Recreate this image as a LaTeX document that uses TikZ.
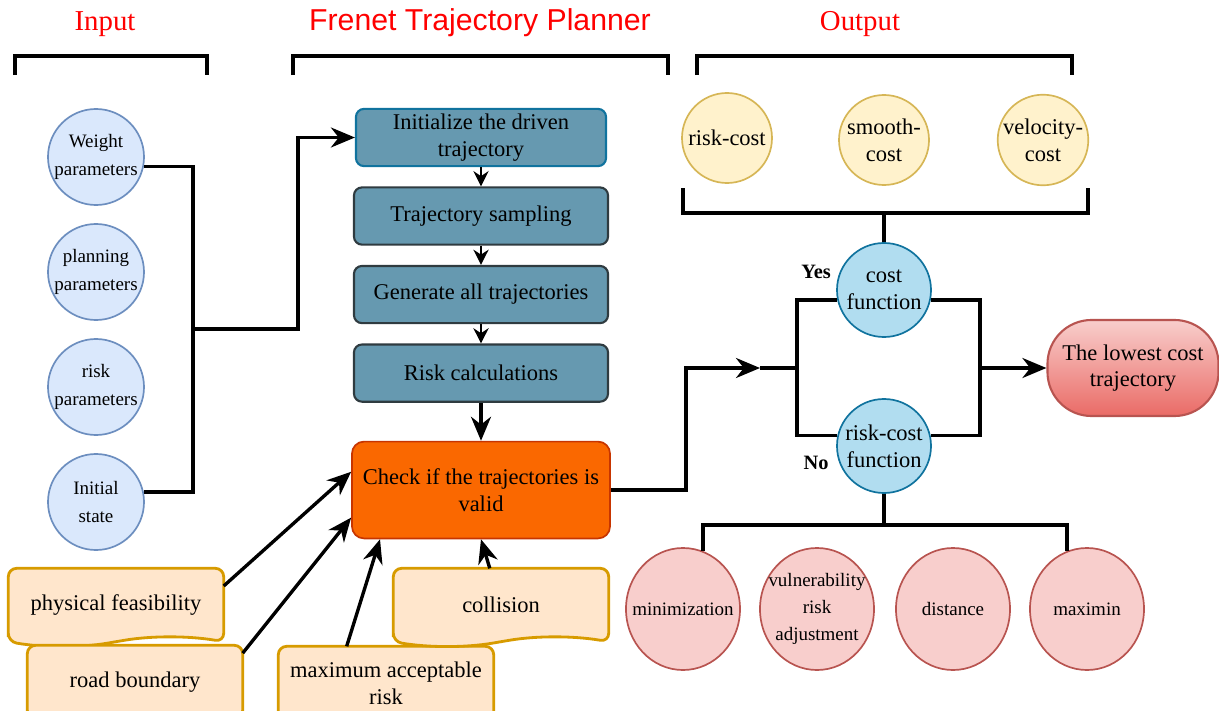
\documentclass[tikz,border=0pt]{standalone}
\usepackage{fontspec}
\setmainfont{Liberation Serif}
\newfontfamily\planfont{Liberation Sans}
\usepackage{tikz}
\usetikzlibrary{positioning,shapes.geometric,arrows.meta,backgrounds}
\definecolor{infill}{HTML}{DAE8FC}
\definecolor{inedge}{HTML}{6C8EBF}
\definecolor{outfill}{HTML}{FFF2CC}
\definecolor{outedge}{HTML}{D6B656}
\definecolor{costfill}{HTML}{B1DDF0}
\definecolor{costedge}{HTML}{10739E}
\definecolor{pinkfill}{HTML}{F8CECC}
\definecolor{pinkedge}{HTML}{B85450}
\definecolor{pinktop}{HTML}{F8CECC}
\definecolor{pinkbot}{HTML}{EA6B66}
\definecolor{docfill}{HTML}{FFE6CC}
\definecolor{docedge}{HTML}{D79B00}
\definecolor{flowfill}{HTML}{6699B0}
\definecolor{flowedge}{HTML}{2F3B40}
\definecolor{checkfill}{HTML}{FA6800}
\definecolor{checkedge}{HTML}{C73500}
\newcommand{\docoutline}[1]{%
  \path[docline] (#1.south west) -- (#1.north west) -- (#1.north east) -- (#1.south east)
    .. controls ([xshift=-0.88cm,yshift=0.15cm]#1.south east) and ([xshift=0.88cm,yshift=0.15cm]#1.south) .. (#1.south)
    .. controls ([xshift=-0.88cm,yshift=-0.15cm]#1.south) and ([xshift=0.88cm,yshift=-0.15cm]#1.south west) .. (#1.south west) -- cycle;}
\begin{document}
\begin{tikzpicture}[x=0.025cm, y=-0.025cm, node distance=0.48cm, line width=2.4pt, >={Stealth[length=6mm,width=5mm]},
innode/.style={circle, draw=inedge, fill=infill, line width=1.2pt, minimum size=2.4cm, inner sep=0pt, align=center, font=\fontsize{13.5}{20}\selectfont},
outnode/.style={circle, draw=outedge, fill=outfill, line width=1.2pt, minimum size=2.25cm, inner sep=0pt, align=center},
costnode/.style={circle, draw=costedge, fill=costfill, line width=1.2pt, minimum size=2.35cm, inner sep=0pt, align=center},
rulenode/.style={ellipse, draw=pinkedge, fill=pinkfill, line width=1.2pt, minimum width=2.85cm, minimum height=3.05cm, inner xsep=-0.3cm, inner ysep=0pt, align=center, font=\fontsize{13.5}{19}\selectfont},
flownode/.style={rectangle, rounded corners=0.2cm, draw=flowedge, fill=flowfill, line width=1.5pt, minimum width=6.35cm, minimum height=1.43cm, align=center},
checknode/.style={rectangle, rounded corners=0.3cm, draw=checkedge, fill=checkfill, line width=1.2pt, minimum width=6.45cm, minimum height=2.42cm, align=center},
docnode/.style={rectangle, minimum width=5.3cm, minimum height=1.75cm, inner sep=0pt, align=center},
docline/.style={draw=docedge, fill=docfill, line width=2pt, rounded corners=6pt},
resnode/.style={rectangle, rounded corners=1.1cm, draw=pinkedge, top color=pinktop, bottom color=pinkbot, line width=1.5pt, minimum width=4.275cm, minimum height=2.4cm, align=center},
headnode/.style={text=red, font=\fontsize{20.5}{24}\selectfont},
bracket/.style={line width=2.6pt},
smallarrow/.style={line width=1.6pt, -{Stealth[length=3.8mm,width=3.8mm]}},
labelnode/.style={font=\bfseries\fontsize{14.5}{17}\selectfont}]
\tikzstyle{every node}=[font=\fontsize{16}{19}\selectfont]
\useasboundingbox (0,0) rectangle (1219,711);
\node[headnode] (h1) at (105,24) {Input};
\node[headnode, font=\planfont\fontsize{21.5}{26}\selectfont] (h2) at (480,23) {Frenet Trajectory Planner};
\node[headnode] (h3) at (860,24) {Output};
\draw[bracket] (15,75) |- (207,56) -- (207,75);
\draw[bracket] (293,75) |- (668,56) -- (668,75);
\draw[bracket] (697,75) |- (1072,56) -- (1072,75);
\node[innode] (i1) at (96,157) {Weight\\parameters};
\node[innode] (i2) at (96,272) {planning\\parameters};
\node[innode] (i3) at (96,387) {risk\\parameters};
\node[innode] (i4) at (96,502) {Initial\\state};
\node[flownode, draw=costedge, minimum width=6.25cm] (f1) at (481,137.5) {Initialize the driven\\trajectory};
\node[flownode] (f2) [below=of f1] {Trajectory sampling};
\node[flownode] (f3) [below=of f2] {Generate all trajectories};
\node[flownode] (f4) [below=of f3] {Risk calculations};
\node[checknode] (chk) [below=0.95cm of f4] {Check if the trajectories is\\valid};
\node[docnode] (d1) at (116,605) {physical feasibility};
\node[docnode] (d2) at (135,682) {road boundary};
\node[docnode] (d3) at (386,683) {maximum acceptable\\risk};
\node[docnode] (d4) at (501,605) {collision};
\begin{scope}[on background layer]
\foreach \d in {d1,d2,d3,d4} {\docoutline{\d}}
\end{scope}
\node[outnode] (o1) at (727,138) {risk-cost};
\node[outnode] (o2) at (884,140) {smooth-\\cost};
\node[outnode] (o3) at (1043,140) {velocity-\\cost};
\node[costnode] (c1) at (884,290) {cost\\function};
\node[costnode] (c2) at (884,446) {risk-cost\\function};
\node[labelnode] (yes) at (816,272) {Yes};
\node[labelnode] (no) at (816,463) {No};
\node[resnode] (res) at (1133,368) {The lowest cost\\trajectory};
\node[rulenode] (e1) at (683,609) {minimization};
\node[rulenode] (e2) at (817,609) {vulnerability\\risk\\adjustment};
\node[rulenode] (e3) at (953,609) {distance};
\node[rulenode] (e4) at (1087,609) {maximin};
\coordinate (j1) at (193,329);
\coordinate (j2) at (298,329);
\coordinate (k1) at (686,368);
\coordinate (k2) at (760,368);
\coordinate (k3) at (797,368);
\coordinate (k4) at (980,368);
\coordinate (k5) at (884,213);
\coordinate (k6) at (884,525);
\draw (i1.-11) -| (j1) |- (i4.12);
\draw[->] (j1) -- (j2) |- (f1.west);
\foreach \a/\b in {f1/f2,f2/f3,f3/f4} \draw[smallarrow] (\a) -- (\b);
\draw[->] (f4) -- (chk);
\draw[->] (d1.10) -- (chk.172);
\draw[->] (d2.15) -- (chk.192);
\draw[->] (d3.137) -- (chk.206);
\draw[->] (d4.107) -- (chk.south);
\draw[->] (chk.east) -| (k1) -- (k2);
\draw (k2) -- (k3);
\draw (c1.192) -| (k3) |- (c2.167);
\draw (c1.-12) -| (k4) |- (c2.13);
\draw[->] (k4) -- (res);
\draw (c1.north) -- (k5);
\draw[bracket] (683,188) |- (1088,213) -- (1088,188);
\draw (c2.south) -- (k6);
\draw (e1.71) |- (k6) -| (e4.109);
\end{tikzpicture}
\end{document}
